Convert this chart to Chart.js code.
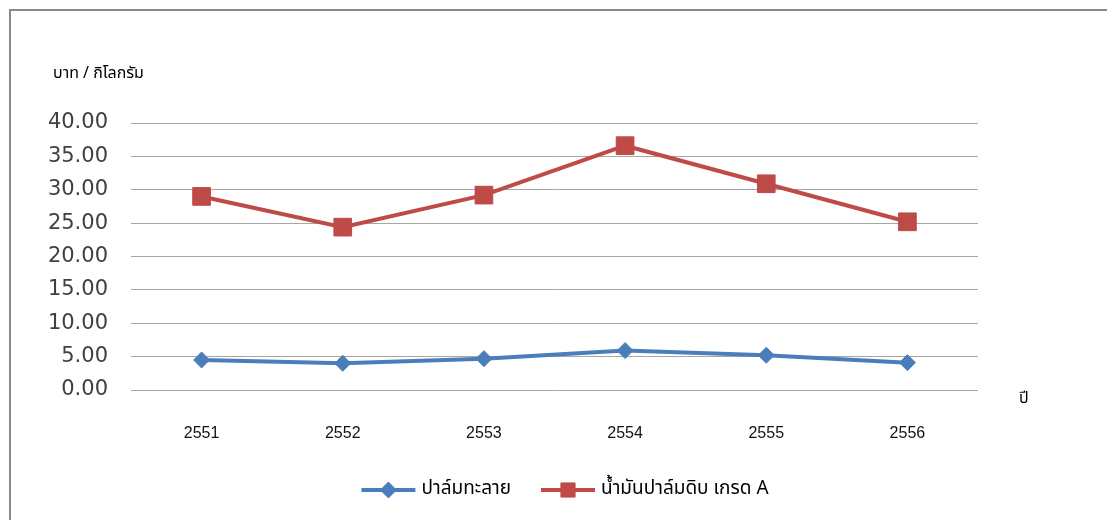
<!DOCTYPE html>
<html>
<head>
<meta charset="utf-8">
<script src="https://cdn.jsdelivr.net/npm/chart.js@4.4.0/dist/chart.umd.min.js"></script>
<style>
  html, body { margin: 0; padding: 0; background: #fff; }
  #wrap { position: relative; width: 1107px; height: 520px; overflow: hidden; }
  #frame { position: absolute; left: 9px; top: 9px; width: 1200px; height: 600px;
           border-left: 2px solid #8a8a8a; border-top: 2px solid #8a8a8a; }
  #chart { position: absolute; left: 0; top: 0; }
</style>
</head>
<body>
<div id="wrap">
  <div id="frame"></div>
  <canvas id="chart" width="1107" height="520"></canvas>
</div>
<script>
// ราคาปาล์ม (บาท / กิโลกรัม)
const years = ['2551', '2552', '2553', '2554', '2555', '2556'];
const bunchPrice = [4.5, 4.0, 4.7, 5.9, 5.2, 4.1];
const cpoPrice = [29.0, 24.4, 29.2, 36.6, 30.9, 25.2];
const yTicks = [0, 5, 10, 15, 20, 25, 30, 35, 40];

const thaiFont = "Tahoma, 'Noto Sans Thai', 'Noto Sans', 'DejaVu Sans', sans-serif";

// axis titles + legend with line and marker
const extras = {
    id: 'extras',
    afterDraw(chart) {
        const ctx = chart.ctx;
        const area = chart.chartArea;
        ctx.save();
        ctx.fillStyle = '#000';
        ctx.font = '16px ' + thaiFont;
        ctx.textBaseline = 'middle';
        ctx.textAlign = 'left';
        ctx.fillText('บาท / กิโลกรัม', 53, 75);
        ctx.fillText('ปี', area.right + 41, area.bottom + 10);

        ctx.font = '19px ' + thaiFont;
        const y = 490;
        const lineLen = 54;
        const gap = 6;
        const between = 30;
        const sets = chart.data.datasets;
        let total = 0;
        sets.forEach((ds, i) => {
            total += lineLen + gap + ctx.measureText(ds.label).width;
            if (i < sets.length - 1) total += between;
        });
        let x = 565 - total / 2;
        sets.forEach(ds => {
            ctx.strokeStyle = ds.borderColor;
            ctx.lineWidth = 4;
            ctx.beginPath();
            ctx.moveTo(x, y);
            ctx.lineTo(x + lineLen, y);
            ctx.stroke();
            ctx.fillStyle = ds.pointBackgroundColor;
            ctx.strokeStyle = ds.pointBackgroundColor;
            ctx.lineWidth = 1;
            Chart.helpers.drawPoint(ctx, {
                pointStyle: ds.pointStyle,
                radius: ds.legendRadius,
                rotation: 0,
                borderWidth: 1
            }, x + lineLen / 2, y);
            ctx.fillStyle = '#000';
            ctx.fillText(ds.label, x + lineLen + gap, y);
            x += lineLen + gap + ctx.measureText(ds.label).width + between;
        });
        ctx.restore();
    }
};

new Chart(document.getElementById('chart'), {
    type: 'line',
    data: {
        labels: years,
        datasets: [{
            label: 'ปาล์มทะลาย',
            data: bunchPrice,
            borderColor: '#4A7EBB',
            borderWidth: 4,
            pointStyle: 'rectRot',
            pointRadius: 8,
            pointBackgroundColor: '#4A7EBB',
            pointBorderColor: '#4A7EBB',
            pointBorderWidth: 1,
            legendRadius: 8,
            tension: 0
        },
        {
            label: 'น้ำมันปาล์มดิบ เกรด A',
            data: cpoPrice,
            borderColor: '#BE4B48',
            borderWidth: 4,
            pointStyle: 'rect',
            pointRadius: 12.5,
            pointBackgroundColor: '#BE4B48',
            pointBorderColor: '#BE4B48',
            pointBorderWidth: 1,
            legendRadius: 10,
            tension: 0
        }]
    },
    options: {
        responsive: false,
        animation: false,
        layout: {
            padding: { top: 123, right: 129, left: 0, bottom: 0 }
        },
        plugins: {
            legend: { display: false },
            tooltip: { enabled: false }
        },
        scales: {
            x: {
                offset: true,
                grid: { display: false, drawTicks: false },
                border: { display: false },
                ticks: {
                    padding: 34,
                    color: '#111',
                    font: { family: "'Liberation Sans', Arial, sans-serif", size: 16 }
                },
                afterFit(scale) { scale.height = 130; }
            },
            y: {
                min: 0,
                max: 40,
                grid: { color: '#a6a6a6', lineWidth: 1, drawTicks: false },
                border: { display: false },
                ticks: {
                    padding: 23,
                    color: '#404040',
                    font: { family: "'DejaVu Sans', sans-serif", size: 21 },
                    callback: v => Number(v).toFixed(2)
                },
                afterBuildTicks(scale) { scale.ticks = yTicks.map(v => ({ value: v })); },
                afterFit(scale) { scale.width = 131; }
            }
        }
    },
    plugins: [extras]
});
</script>
</body>
</html>
